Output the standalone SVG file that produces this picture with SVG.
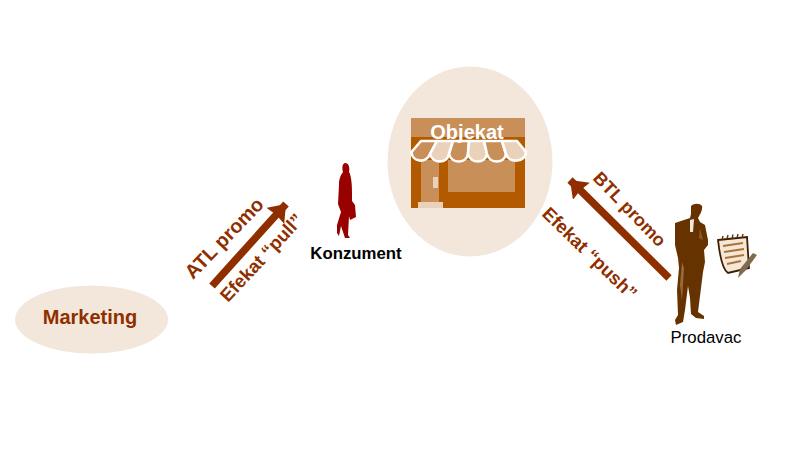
<svg xmlns="http://www.w3.org/2000/svg" width="800" height="473" viewBox="0 0 800 473">
<style>
.blob{fill:#f3e7dc}
.lab{font-family:"Liberation Sans",Arial,sans-serif;font-weight:700;fill:#8f2f00}
.sm{font-family:"Liberation Sans",Arial,sans-serif;fill:#000;font-size:16.800px}
.arr{stroke:#8f2f00;stroke-width:7.500;fill:none;marker-end:url(#h)}
.aw{stroke:#fff;stroke-width:2.600;stroke-linejoin:round}
</style>
<defs><marker id="h" markerUnits="userSpaceOnUse" markerWidth="20" markerHeight="26" refX="16" refY="12" orient="auto"><path d="M0 0L16 12L0 24L1.500 12Z" fill="#8f2f00"/></marker></defs>
<rect width="800" height="473" fill="#fff"/>
<g id="marketing"><ellipse class="blob" cx="91.500" cy="319.500" rx="76.500" ry="34"/><text class="lab" x="90" y="324" font-size="20" text-anchor="middle">Marketing</text></g>
<g id="konzument">
<path d="M345 163C349 163 350 168 349 172C351 175 352 183 352 194L352 201L355 205L356 217L350 220L349 216L348 235L350 238L345 238L341 226L339 236L337 233L337 225L341 212L338 204L339 185C339 178 341 175 343 172C342 168 342 164 345 163Z" fill="#990000"/>
<text class="sm" x="356" y="259" text-anchor="middle" font-weight="700">Konzument</text></g>
<g id="objekat">
<ellipse class="blob" cx="470" cy="161.500" rx="82.500" ry="95"/>
<rect x="411" y="118" width="114" height="20" fill="#c98f58"/>
<rect x="411" y="137" width="114" height="71" fill="#b35900"/>
<rect x="421" y="160" width="18" height="44" fill="#c98f58"/>
<rect x="448" y="160" width="67" height="32" fill="#c98f58"/>
<rect x="433" y="177" width="5" height="11" fill="#ead2ba"/>
<rect x="418" y="202" width="25" height="6" fill="#ead2ba"/>
<path class="aw" fill="#c98f58" d="M421 141L411.500 152C412 162 426 164 430 154L437 141Z"/>
<path class="aw" fill="#ead2ba" d="M437 141L430 154C433 164 447 164 449 154L453 141Z"/>
<path class="aw" fill="#c98f58" d="M453 141L449 154C452 164 466 164 468 154L469 141Z"/>
<path class="aw" fill="#ead2ba" d="M469 141L468 154C471 164 485 164 487 154L484 141Z"/>
<path class="aw" fill="#c98f58" d="M484 141L487 154C490 164 504 164 506 154L502 141Z"/>
<path class="aw" fill="#ead2ba" d="M502 141L506 154C509 164 526 162 526 152L517 141Z"/>
<text x="467" y="138.500" font-family="'Liberation Sans',Arial,sans-serif" font-size="20" font-weight="700" fill="#fff" text-anchor="middle">Objekat</text></g>
<g id="prodavac">
<path d="M691 206C694 203 700 203 702 206C703 210 700 214 698 218L700 222L705 225L708 240L708 245L704 250L705 262L703 272L700 296L698 312L704 316L704 319L696 318L691 314L690 298L688 286L685 310L683 322L676 325L675 320L678 315L677 290L679 268L678 258L675 245L675 223L690 218L691 214Z" fill="#663300"/>
<path d="M690 220L694 219L693 232L690 232Z" fill="#f3e7dc"/>
<path d="M682 300L684 268L682 262L680 285Z" fill="#9a6a3c"/>
<path d="M700 228L703 240L699 238Z" fill="#8a5a2c"/>
<text class="sm" x="706" y="343" text-anchor="middle">Prodavac</text>
<path d="M718 240L747 237L749 268L728 273C723 270 720 258 718 240Z" fill="#f6e6d4" stroke="#3d1d00" stroke-width="1.800"/>
<path d="M722 240L723 236M727 239L728 235M732 239L733 234.500M737 238L738 234M742 238L743 234" stroke="#5a3414" stroke-width="1.400" fill="none"/>
<path d="M723 246L743 243M724 252L744 249M725 258L744 255M727 264L741 261" stroke="#a8733f" stroke-width="1.800" fill="none"/>
<path d="M757 255L746 270L738 278L740 269L753 253Z" fill="#7f6b52"/></g>
<g id="connectors">
<path class="arr" d="M212 286L286 204"/>
<path class="arr" d="M669 278L570 180"/>
</g>
<g id="labels">
<text class="lab" transform="translate(193 280) rotate(-46)" font-size="19.800">ATL promo</text>
<text class="lab" transform="translate(228 303) rotate(-47)" font-size="18.500">Efekat “pull”</text>
<text class="lab" transform="translate(592 179) rotate(46)" font-size="18">BTL promo</text>
<text class="lab" transform="translate(541 215) rotate(44)" font-size="18.500">Efekat “push”</text>
</g>
</svg>
